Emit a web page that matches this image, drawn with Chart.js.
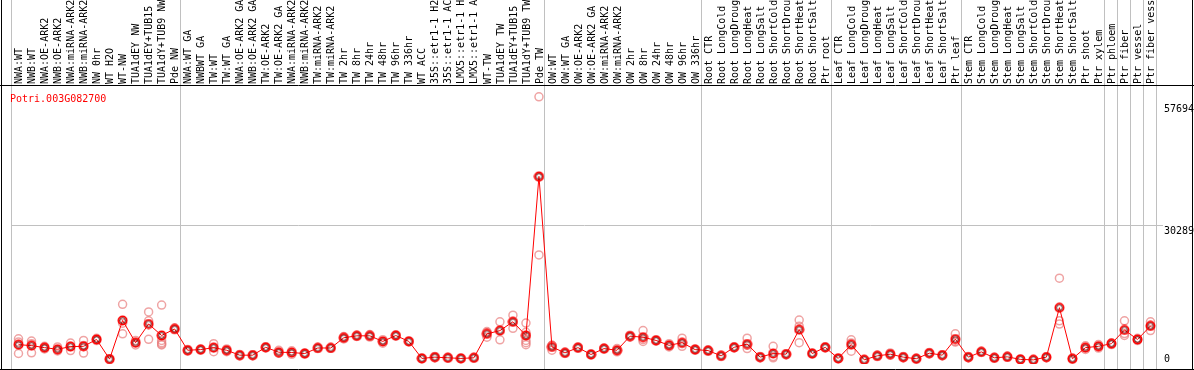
<!DOCTYPE html>
<html>
<head>
<meta charset="utf-8">
<script src="https://cdn.jsdelivr.net/npm/chart.js@4"></script>
<style>
  html, body { margin: 0; padding: 0; background: #fff; }
</style>
</head>
<body>
<canvas id="geneChart" width="1194" height="370"></canvas>
<script>
// expression profile for one gene across samples
const geneName = 'Potri.003G082700';

const sampleLabels = [
  'NWA:WT', 'NWB:WT', 'NWA:OE-ARK2', 'NWB:OE-ARK2', 'NWA:miRNA-ARK2', 'NWB:miRNA-ARK2',
  'NW 0hr', 'WT H2O', 'WT-NW', 'TUA1dEY NW', 'TUA1dEY+TUB15 NW', 'TUA1dY+TUB9 NW', 'Pde NW',
  'NWA:WT GA', 'NWBWT GA', 'TW:WT', 'TW:WT GA', 'NWA:OE-ARK2 GA', 'NWB:OE-ARK2 GA',
  'TW:OE-ARK2', 'TW:OE-ARK2 GA', 'NWA:miRNA-ARK2 GA', 'NWB:miRNA-ARK2 GA', 'TW:miRNA-ARK2',
  'TW:miRNA-ARK2 GA', 'TW 2hr', 'TW 8hr', 'TW 24hr', 'TW 48hr', 'TW 96hr', 'TW 336hr',
  'WT ACC', '35S::etr1-1 H2O', '35S::etr1-1 ACC', 'LMX5::etr1-1 H2O', 'LMX5::etr1-1 ACC',
  'WT-TW', 'TUA1dEY TW', 'TUA1dEY+TUB15 TW', 'TUA1dY+TUB9 TW', 'Pde TW',
  'OW:WT', 'OW:WT GA', 'OW:OE-ARK2', 'OW:OE-ARK2 GA', 'OW:miRNA-ARK2', 'OW:miRNA-ARK2 GA',
  'OW 2hr', 'OW 8hr', 'OW 24hr', 'OW 48hr', 'OW 96hr', 'OW 336hr',
  'Root CTR', 'Root LongCold', 'Root LongDrought', 'Root LongHeat', 'Root LongSalt',
  'Root ShortCold', 'Root ShortDrought', 'Root ShortHeat', 'Root ShortSalt', 'Ptr root',
  'Leaf CTR', 'Leaf LongCold', 'Leaf LongDrought', 'Leaf LongHeat', 'Leaf LongSalt',
  'Leaf ShortCold', 'Leaf ShortDrought', 'Leaf ShortHeat', 'Leaf ShortSalt', 'Ptr leaf',
  'Stem CTR', 'Stem LongCold', 'Stem LongDrought', 'Stem LongHeat', 'Stem LongSalt',
  'Stem ShortCold', 'Stem ShortDrought', 'Stem ShortHeat', 'Stem ShortSalt', 'Ptr shoot',
  'Ptr xylem', 'Ptr phloem', 'Ptr fiber', 'Ptr vessel', 'Ptr fiber vessel'
];

const meanValues = [
  3470, 3250, 2800, 2430, 3030, 3100, 4640, 220, 8910, 3910, 8110, 5540, 7000,
  2210, 2360, 2800, 2210, 1100, 1100, 2870, 1770, 1700, 1470, 2720, 2720,
  5020, 5460, 5460, 4200, 5530, 4200, 370, 660, 510, 370, 510,
  5900, 6630, 8620, 5530, 41340,
  2950, 1620, 2800, 1260, 2580, 2210, 5380, 5150, 4420, 3320, 3910, 2360,
  2140, 950, 2870, 3610, 660, 1470, 1330, 6850, 1470, 2870,
  370, 3470, 60, 950, 1330, 660, 300, 1550, 1100, 4720,
  660, 1840, 510, 730, 150, 50, 660, 11790, 300, 2800,
  3100, 3690, 6780, 4640, 7670
];

const replicateValues = [
  [4800, 4050, 1480], [4270, 3690, 1620], [3100, 2800, 2500], [2950, 2300, 2050],
  [3830, 3100, 2150], [4420, 3300, 1580], [4900, 4640, 4380], [300, 220, 140],
  [12540, 8290, 5900], [4420, 3910, 3400], [10830, 8840, 4660],
  [12380, 4420, 3900, 3600, 3400], [7200, 7000, 6800],
  [2400, 2200, 2030], [2500, 2360, 2220], [3700, 2800, 1900], [2500, 2230, 1900],
  [1250, 1100, 950], [1200, 1100, 1000], [3000, 2870, 2740], [2210, 1550, 1550],
  [2100, 1700, 1300], [1600, 1470, 1340], [2850, 2720, 2590], [2800, 2720, 2640],
  [5300, 5000, 4760], [5600, 5460, 5320], [5750, 5460, 5170], [4600, 4200, 3800],
  [5700, 5530, 5360], [4300, 4200, 4100], [450, 370, 290], [800, 660, 520],
  [600, 510, 420], [450, 370, 290], [560, 510, 460],
  [6410, 6150, 5150], [8620, 6700, 4570], [10100, 8620, 7140],
  [8330, 6260, 5530, 4420, 3910, 3470], [59250, 41110, 23660],
  [3320, 3320, 2210], [1750, 1620, 1490], [2950, 2800, 2650], [1400, 1260, 1120],
  [2700, 2580, 2460], [2580, 2200, 1850], [5600, 5380, 5160], [6630, 4620, 4200],
  [4600, 4420, 4240], [3690, 3320, 2950], [4930, 3700, 3100], [2500, 2360, 2220],
  [2300, 2140, 1980], [1100, 950, 800], [3000, 2870, 2740], [4930, 3320, 2580],
  [800, 660, 520], [3100, 800, 510], [1450, 1330, 1210], [9000, 7640, 3910],
  [1600, 1470, 1340], [3000, 2870, 2740],
  [450, 370, 290], [4570, 3850, 1990], [100, 60, 20], [1100, 950, 800],
  [1600, 1330, 1060], [800, 660, 520], [400, 300, 200], [1700, 1550, 1400],
  [1200, 1100, 1000], [5900, 4200, 4050],
  [800, 660, 520], [1950, 1840, 1730], [600, 510, 420], [850, 730, 610],
  [250, 150, 50], [80, 50, 20], [750, 660, 570], [18420, 8840, 8110],
  [400, 300, 200], [3200, 2800, 2400],
  [3500, 3100, 2700], [3900, 3690, 3480], [8840, 5970, 5530], [4900, 4640, 4380],
  [8620, 7760, 6630]
];

// first sample index of each block, last entry closes the plot
const groupStarts = [0, 13, 41, 53, 63, 73, 84, 85, 86, 87, 88];
const yTickValues = [0, 30289, 57694];

const monoFont = '"DejaVu Sans Mono", "Liberation Mono", monospace';

// one point per replicate, spread over a few datasets
const repDatasets = [];
const maxReps = Math.max(...replicateValues.map(r => r.length));
for (let k = 0; k < maxReps; k++) {
  repDatasets.push({
    label: 'rep' + (k + 1),
    data: replicateValues.map(r => (r[k] !== undefined ? r[k] : null)),
    showLine: false,
    pointStyle: 'circle',
    pointRadius: 4,
    pointBorderWidth: 1.5,
    pointBorderColor: 'rgba(232, 125, 125, 0.7)',
    pointBackgroundColor: 'rgba(0,0,0,0)',
    order: 2
  });
}

function makeMeanMarker() {
  const c = document.createElement('canvas');
  c.width = 11;
  c.height = 11;
  const g = c.getContext('2d');
  g.strokeStyle = '#ff0000';
  g.lineWidth = 1.8;
  g.beginPath();
  g.arc(5.5, 5.5, 4.1, 0, Math.PI * 2);
  g.stroke();
  g.strokeStyle = 'rgba(60,0,0,0.85)';
  g.lineWidth = 0.9;
  g.beginPath();
  g.arc(5.5, 5.5, 2.8, 0, Math.PI * 2);
  g.stroke();
  return c;
}

const decorPlugin = {
  id: 'decor',
  beforeDatasetsDraw(chart) {
    const { ctx, scales } = chart;
    const x = scales.x;
    const half = (x.getPixelForValue(1) - x.getPixelForValue(0)) / 2;
    ctx.save();
    ctx.strokeStyle = '#c0c0c0';
    ctx.lineWidth = 1;
    groupStarts.forEach(i => {
      const px = Math.round(x.getPixelForValue(i) - half) - 0.5;
      ctx.beginPath();
      ctx.moveTo(px, 0);
      ctx.lineTo(px, chart.height);
      ctx.stroke();
    });
    ctx.restore();
  },
  afterDraw(chart) {
    const { ctx, chartArea, scales } = chart;
    const y = scales.y;
    ctx.save();
    // frame
    ctx.strokeStyle = '#000';
    ctx.lineWidth = 1;
    ctx.beginPath();
    ctx.moveTo(1.5, 0);
    ctx.lineTo(1.5, chart.height);
    ctx.moveTo(chart.width - 1.5, 0);
    ctx.lineTo(chart.width - 1.5, chart.height);
    ctx.moveTo(0, chartArea.top - 0.5);
    ctx.lineTo(chart.width, chartArea.top - 0.5);
    ctx.moveTo(0, chart.height - 0.5);
    ctx.lineTo(chart.width, chart.height - 0.5);
    ctx.stroke();

    // gene id
    ctx.font = '10px ' + monoFont;
    ctx.textBaseline = 'top';
    ctx.fillStyle = '#ff0000';
    ctx.fillText(geneName, 10, chartArea.top + 8);

    // value labels on the right
    ctx.fillStyle = '#000';
    yTickValues.forEach(v => {
      const py = y.getPixelForValue(v);
      const top = Math.min(py + 1, chartArea.bottom - 10);
      ctx.fillText(String(v), chartArea.right + 7, top);
    });
    ctx.restore();
  }
};

const ctx = document.getElementById('geneChart');
new Chart(ctx, {
  type: 'line',
  data: {
    labels: sampleLabels,
    datasets: [
      {
        label: geneName,
        data: meanValues,
        borderColor: '#ff0000',
        borderWidth: 1,
        tension: 0,
        pointStyle: makeMeanMarker(),
        pointRadius: 5,
        order: 1
      },
      ...repDatasets
    ]
  },
  options: {
    responsive: false,
    animation: false,
    events: [],
    layout: { padding: { left: 12, right: 0, top: 0, bottom: 1 } },
    plugins: {
      legend: { display: false },
      tooltip: { enabled: false }
    },
    scales: {
      x: {
        type: 'category',
        position: 'top',
        offset: true,
        border: { display: false },
        grid: { display: false, drawTicks: false },
        ticks: {
          autoSkip: false,
          maxRotation: 90,
          minRotation: 90,
          padding: 2,
          labelOffset: 13,
          color: '#000',
          font: { family: monoFont, size: 10 }
        },
        afterFit(scale) { scale.height = 86; }
      },
      y: {
        position: 'right',
        min: -884,
        max: 61685,
        border: { display: false },
        afterBuildTicks(scale) {
          scale.ticks = yTickValues.map(v => ({ value: v }));
        },
        grid: {
          color: c => (c.tick && c.tick.value === 30289 ? '#c0c0c0' : 'rgba(0,0,0,0)'),
          tickLength: 6
        },
        ticks: { display: false },
        afterFit(scale) { scale.width = 37; }
      }
    }
  },
  plugins: [decorPlugin]
});
</script>
</body>
</html>
